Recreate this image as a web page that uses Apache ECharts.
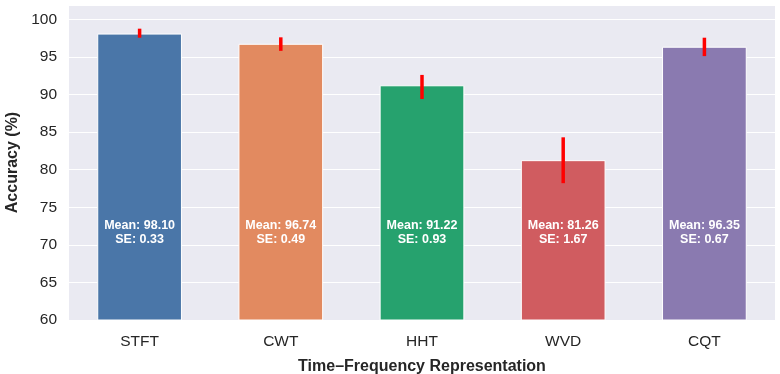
<!DOCTYPE html>
<html>
<head>
<meta charset="utf-8">
<script src="https://cdn.jsdelivr.net/npm/echarts@6/dist/echarts.min.js"></script>
<style>
  html, body { margin: 0; padding: 0; background: #fff; }
  #chart { width: 780px; height: 374px; }
</style>
</head>
<body>
<div id="chart"></div>
<script>
// Data
const methods = ['STFT', 'CWT', 'HHT', 'WVD', 'CQT'];
const means = [98.10, 96.74, 91.22, 81.26, 96.35];
const stdErrs = [0.33, 0.49, 0.93, 1.67, 0.67];
const ciLow = [97.55, 95.8, 89.4, 78.2, 95.1];
const ciHigh = [98.75, 97.6, 92.6, 84.3, 97.55];
const yTicks = [60, 65, 70, 75, 80, 85, 90, 95, 100];

const barColors = ['#4A76A8', '#E28A60', '#26A26E', '#D05C60', '#8A7AB0'];
const labelY = 71.6;
const fontFamily = '"Liberation Sans", Arial, sans-serif';

const chart = echarts.init(document.getElementById('chart'));

chart.setOption({
  animation: false,
  grid: {
    left: 69, right: 5, top: 5, bottom: 54,
    outerBoundsMode: 'none',
    containLabel: false,
    show: true, backgroundColor: '#EAEAF2', borderWidth: 0
  },
  xAxis: {
    type: 'category',
    data: methods,
    name: 'Time–Frequency Representation',
    nameLocation: 'middle',
    nameGap: 39,
    nameTextStyle: { fontFamily, fontSize: 16, fontWeight: 'bold', color: '#262626' },
    axisLine: { show: false },
    axisTick: { show: false },
    axisLabel: { fontFamily, fontSize: 15.5, color: '#262626', margin: 14 },
    splitLine: { show: false }
  },
  yAxis: {
    type: 'value',
    min: 60,
    max: 101.9,
    interval: 5,
    name: 'Accuracy (%)',
    nameLocation: 'middle',
    nameGap: 48,
    nameTextStyle: { fontFamily, fontSize: 16, fontWeight: 'bold', color: '#262626' },
    axisLine: { show: false },
    axisTick: { show: false },
    axisLabel: {
      fontFamily, fontSize: 15.5, color: '#262626', margin: 12,
      formatter: v => (yTicks.includes(v) ? String(v) : '')
    },
    splitLine: { lineStyle: { color: '#ffffff', width: 1.2 } }
  },
  series: [
    {
      type: 'bar',
      barWidth: '60%',
      data: means.map((m, i) => ({
        value: m,
        itemStyle: { color: barColors[i], borderColor: '#ffffff', borderWidth: 1 }
      })),
      z: 2
    },
    {
      // error bars
      type: 'custom',
      data: methods.map((_, i) => [i, ciLow[i], ciHigh[i]]),
      renderItem: (params, api) => {
        const lo = api.coord([api.value(0), api.value(1)]);
        const hi = api.coord([api.value(0), api.value(2)]);
        return {
          type: 'line',
          shape: { x1: lo[0], y1: lo[1], x2: hi[0], y2: hi[1] },
          style: { stroke: '#FF0000', lineWidth: 3.5, lineCap: 'butt' }
        };
      },
      z: 4
    },
    {
      // mean / SE annotations
      type: 'custom',
      data: methods.map((_, i) => [i, means[i], stdErrs[i]]),
      renderItem: (params, api) => {
        const p = api.coord([api.value(0), labelY]);
        return {
          type: 'text',
          x: p[0], y: p[1],
          style: {
            text: 'Mean: ' + api.value(1).toFixed(2) + '\nSE: ' + api.value(2).toFixed(2),
            fill: '#ffffff',
            font: 'bold 12.5px ' + fontFamily,
            align: 'center',
            verticalAlign: 'middle',
            lineHeight: 13.5
          }
        };
      },
      z: 5
    }
  ]
});
</script>
</body>
</html>
